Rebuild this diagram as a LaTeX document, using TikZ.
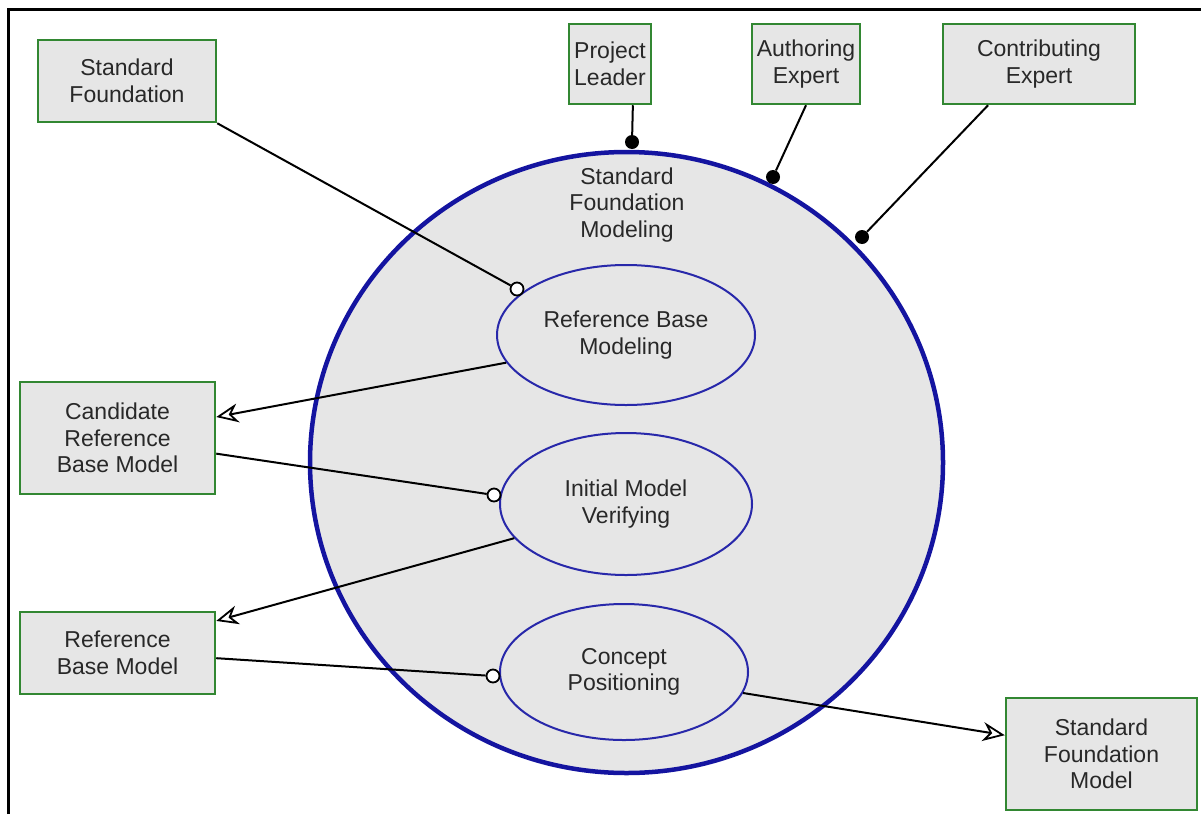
\documentclass[tikz,border=0pt]{standalone}
\usepackage{fontspec}
\setmainfont{Liberation Sans}
\usetikzlibrary{shapes.geometric,arrows.meta}
\definecolor{boxgreen}{RGB}{50,135,50}
\definecolor{fillgray}{RGB}{230,230,230}
\definecolor{bigblue}{RGB}{20,20,160}
\definecolor{ellblue}{RGB}{40,40,170}
\definecolor{txt}{RGB}{40,40,40}
\begin{document}
\begin{tikzpicture}[x=1pt,y=-1pt,
  every node/.style={font=\fontsize{23}{26.5}\selectfont, text=txt, align=center},
  actor/.style={draw=boxgreen, line width=2.5pt, fill=fillgray, inner sep=0pt},
  proc/.style={ellipse, draw=ellblue, line width=2pt, fill=fillgray, inner sep=0pt},
  bigproc/.style={ellipse, draw=bigblue, line width=4.5pt, fill=fillgray, inner sep=0pt},
  dotc/.style={circle, fill=black, minimum size=14pt, inner sep=0pt},
  openc/.style={circle, draw=black, fill=white, line width=1.8pt, minimum size=13pt, inner sep=0pt},
  conn/.style={draw=black, line width=2pt},
  flow/.style={conn, -{Stealth[open, length=22pt, width=19pt, inset=7pt, line width=1.8pt]}}
]
\useasboundingbox (0,0) rectangle (1201,814);
\draw[line width=3pt] (8,814) -- (8,9) -- (1201,9);

% big process
\node[bigproc, minimum width=633, minimum height=621] (big) at (626.5,462.5) {};
\node (bigt) at (627,205) {Standard\\Foundation\\Modeling};

% sub-processes
\node[proc, minimum width=258, minimum height=140] (e1) at (626,335) {Reference Base\\Modeling};
\node[proc, minimum width=252, minimum height=142] (e2) at (626,504) {Initial Model\\Verifying};
\node[proc, minimum width=248, minimum height=136] (e3) at (624,672) {Concept\\Positioning};

% boxes
\node[actor, minimum width=178, minimum height=82] (sf) at (127,81) {Standard\\Foundation};
\node[actor, minimum width=82, minimum height=80] (pl) at (610,64) {Project\\Leader};
\node[actor, minimum width=108, minimum height=80] (ae) at (806,64) {Authoring\\Expert};
\node[actor, minimum width=192, minimum height=80] (ce) at (1039,64) {Contributing\\Expert};
\node[actor, minimum width=195, minimum height=112] (cand) at (117.5,438) {Candidate\\Reference\\Base Model};
\node[actor, minimum width=195, minimum height=82] (rbm) at (117.5,653) {Reference\\Base Model};
\node[actor, minimum width=191, minimum height=112] (sfm) at (1101.5,754) {Standard\\Foundation\\Model};

% ports
\node[dotc] (d1) at (632,142) {};
\node[dotc] (d2) at (773,177) {};
\node[dotc] (d3) at (862,237) {};
\node[openc] (c1) at (517,289) {};
\node[openc] (c2) at (494,495) {};
\node[openc] (c3) at (493,676) {};

% connectors
\draw[conn] (sf.south east) -- (c1);
\draw[conn] (pl.-61) -- (d1);
\draw[conn] (ae.south) -- (d2);
\draw[conn] (ce.-141) -- (d3);
\draw[flow] (e1.193) -- (cand.12);
\draw[conn] (cand.-9) -- (c2);
\draw[flow] (e2.197) -- (rbm.18);
\draw[conn] (rbm.-3) -- (c3);
\draw[flow] (e3.-10) -- (sfm.169);
\end{tikzpicture}
\end{document}
